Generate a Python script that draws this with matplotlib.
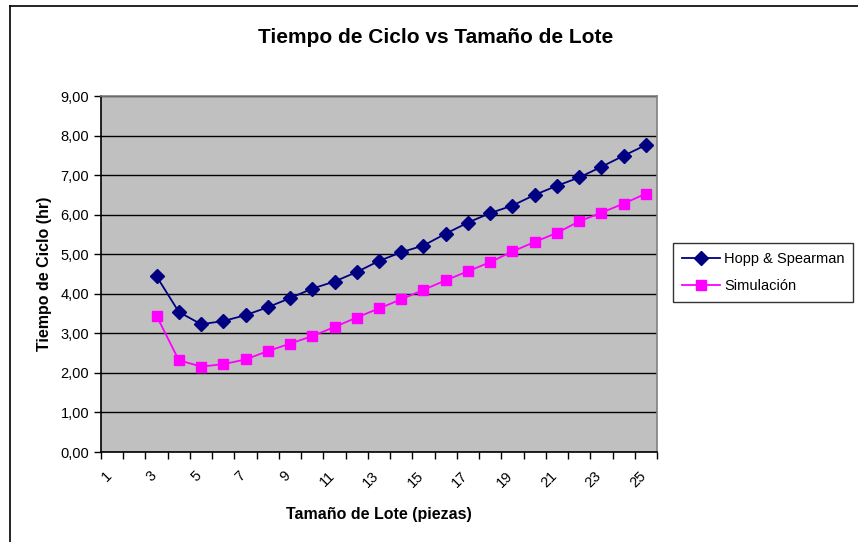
import matplotlib
matplotlib.use("Agg")
import matplotlib.pyplot as plt
from matplotlib.lines import Line2D
from matplotlib.ticker import FuncFormatter
from matplotlib.transforms import ScaledTranslation

plt.rcParams['font.family'] = ['Liberation Sans', 'DejaVu Sans']

# categories on the x axis (lot size)
categorias = [1, 2, 3, 4, 5, 6, 7, 8, 9, 10, 11, 12, 13, 14, 15, 16, 17,
              18, 19, 20, 21, 22, 23, 24, 25]
etiquetas = ["1", "3", "5", "7", "9", "11", "13", "15", "17", "19", "21", "23", "25"]

# lot sizes that have data
lote = [3, 4, 5, 6, 7, 8, 9, 10, 11, 12, 13, 14, 15, 16, 17, 18, 19, 20,
        21, 22, 23, 24, 25]

hopp = [4.44, 3.54, 3.23, 3.31, 3.46, 3.66, 3.89, 4.13, 4.31, 4.55, 4.83,
        5.05, 5.22, 5.52, 5.80, 6.04, 6.23, 6.50, 6.73, 6.94, 7.21, 7.49, 7.76]

simulacion = [3.44, 2.32, 2.16, 2.22, 2.34, 2.55, 2.74, 2.93, 3.16, 3.40, 3.63,
              3.86, 4.10, 4.34, 4.57, 4.80, 5.07, 5.31, 5.54, 5.83, 6.05, 6.28, 6.53]


fig = plt.figure(figsize=(8.58, 5.42), dpi=100)
fig.patch.set_facecolor("white")

W, H = 858, 542
ax = fig.add_axes([101 / W, 1 - 452 / H, (657 - 101) / W, (452 - 96) / H])
ax.set_facecolor("#C0C0C0")

ax.plot(lote, hopp, color="#000080", marker="D", markersize=7, linewidth=1.3,
        label="Hopp & Spearman", zorder=3)
ax.plot(lote, simulacion, color="#FF00FF", marker="s", markersize=7.5, linewidth=1.3,
        label="Simulación", zorder=3)

# y axis
ax.set_ylim(0, 9)
ax.set_yticks([0, 1, 2, 3, 4, 5, 6, 7, 8, 9])
ax.yaxis.set_major_formatter(FuncFormatter(lambda v, p: f"{v:.2f}".replace(".", ",")))
ax.yaxis.grid(True, color="black", linewidth=1)
ax.set_axisbelow(True)

# x axis: ticks between categories, labels centred on categories
ax.set_xlim(categorias[0] - 0.5, categorias[-1] + 0.5)
ax.set_xticks([c - 0.5 for c in categorias] + [categorias[-1] + 0.5])
ax.set_xticklabels([])
ax.set_xticks(categorias[::2], minor=True)
ax.set_xticklabels(etiquetas, minor=True, rotation=45, ha="right",
                   rotation_mode="anchor", fontsize=10.5)
ax.tick_params(axis="x", which="minor", length=0, pad=12)
ax.tick_params(axis="both", which="major", direction="out", length=5,
               width=1, color="black", labelsize=10.5)
shift = ScaledTranslation(-7 / 100, 0, fig.dpi_scale_trans)
for lbl in ax.get_xticklabels(minor=True):
    lbl.set_transform(lbl.get_transform() + shift)

for s in ["left", "bottom"]:
    ax.spines[s].set_color("black")
    ax.spines[s].set_linewidth(1.2)
for s in ["top", "right"]:
    ax.spines[s].set_color("#808080")
    ax.spines[s].set_linewidth(1.2)

ax.set_ylabel("Tiempo de Ciclo (hr)", fontsize=11.5, fontweight="bold", labelpad=6)
ax.set_xlabel("Tamaño de Lote (piezas)", fontsize=11.5, fontweight="bold", labelpad=12)

fig.text(436 / W, 1 - 38 / H, "Tiempo de Ciclo vs Tamaño de Lote",
         ha="center", va="center", fontsize=15, fontweight="bold")

leg = fig.legend(loc="upper left", bbox_to_anchor=(673 / W, 1 - 243 / H),
                 fontsize=10.5, frameon=True, fancybox=False, borderpad=0.6,
                 handlelength=2.6, handletextpad=0.3, labelspacing=0.9,
                 borderaxespad=0)
leg.get_frame().set_edgecolor("black")
leg.get_frame().set_linewidth(1)

# outer chart border (left and top visible)
fig.add_artist(Line2D([10 / W, 10 / W], [0, 1 - 6 / H], color="black", linewidth=1.2))
fig.add_artist(Line2D([10 / W, 1], [1 - 6 / H, 1 - 6 / H], color="black", linewidth=1.2))

fig.savefig("out.png", dpi=100)
